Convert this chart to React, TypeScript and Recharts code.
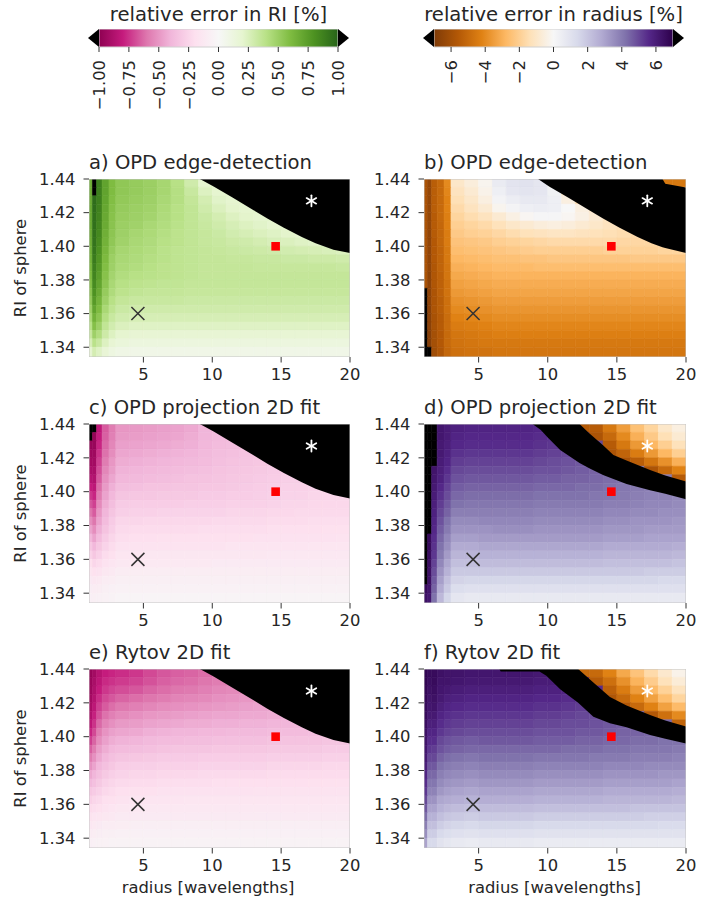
import React from 'react';
import { ComposedChart, XAxis, YAxis, ReferenceArea, Area, Scatter } from 'recharts';

const FONT = "'DejaVu Sans', sans-serif";
const TEXT = '#262626';

// ---------- axes / ticks ----------
const RADIUS_TICKS = [5, 10, 15, 20];
const RI_TICKS = [1.34, 1.36, 1.38, 1.4, 1.42, 1.44];
const RADIUS_DOMAIN = [1.05, 20];
const RI_DOMAIN = [1.3342, 1.44];
const CBAR_RI_TICKS = [-1, -0.75, -0.5, -0.25, 0, 0.25, 0.5, 0.75, 1];
const CBAR_RADIUS_TICKS = [-6, -4, -2, 0, 2, 4, 6];

// cell edges of the heat-map grid (radius, RI); RI rows listed top -> bottom
const X_EDGES = [1.05, 1.3, 1.6, 2, 2.5, 3, 4, 5, 6, 7, 8, 9, 10, 11, 12, 13, 14, 15, 16, 17, 18, 19, 20];
const Y_EDGES = [1.44, 1.435, 1.43, 1.425, 1.42, 1.415, 1.41, 1.405, 1.4, 1.395, 1.39, 1.385, 1.38, 1.375, 1.37, 1.365, 1.36, 1.355, 1.35, 1.345, 1.34, 1.3342];

// colormaps
const PIYG = ['#8e0152', '#c51b7d', '#de77ae', '#f1b6da', '#fde0ef', '#f7f7f7', '#e6f5d0', '#b8e186', '#7fbc41', '#4d9221', '#276419'];
const PUOR = ['#7f3b08', '#b35806', '#e08214', '#fdb863', '#fee0b6', '#f7f7f7', '#d8daeb', '#b2abd2', '#8073ac', '#542788', '#2d004b'];

// markers
const MARKERS = [
  { x: 4.6, y: 1.36, kind: 'cross' },
  { x: 14.6, y: 1.4, kind: 'square' },
  { x: 17.2, y: 1.427, kind: 'star' },
];

// ---------- panel a: RI error, OPD edge-detection (units of 0.01 %) ----------
const GRID_A = [
  [65, 999, 88, 72, 60, 54, 52, 50, 46, 40, 30, 20, 22, 22, 22, 22, 22, 22, 22, 22, 22, 22],
  [66, 999, 88, 72, 60, 54, 52, 50, 46, 41, 33, 24, 20, 22, 22, 22, 22, 22, 22, 22, 22, 22],
  [67, 96, 88, 71, 59, 53, 51, 49, 45, 41, 35, 28, 22, 20, 22, 22, 22, 22, 22, 22, 22, 22],
  [68, 96, 87, 70, 58, 52, 50, 48, 44, 40, 36, 30, 25, 21, 20, 22, 22, 22, 22, 22, 22, 22],
  [68, 95, 86, 69, 57, 51, 49, 47, 43, 40, 36, 32, 28, 24, 21, 20, 22, 22, 22, 22, 22, 22],
  [68, 95, 85, 68, 56, 50, 48, 45, 42, 39, 36, 33, 30, 27, 24, 22, 20, 20, 22, 22, 22, 22],
  [67, 94, 84, 66, 55, 49, 46, 44, 41, 38, 36, 34, 32, 29, 27, 25, 23, 21, 20, 20, 20, 20],
  [66, 93, 82, 65, 54, 48, 45, 43, 40, 38, 36, 34, 33, 31, 30, 28, 26, 25, 23, 22, 21, 20],
  [65, 92, 80, 63, 52, 46, 44, 42, 39, 37, 36, 35, 34, 33, 32, 31, 30, 29, 28, 27, 26, 25],
  [64, 90, 78, 61, 50, 45, 43, 41, 39, 37, 36, 35, 35, 34, 34, 33, 33, 32, 32, 31, 31, 30],
  [62, 88, 76, 59, 49, 44, 42, 40, 38, 37, 36, 35, 35, 35, 35, 34, 34, 34, 34, 34, 34, 33],
  [60, 86, 74, 57, 47, 42, 40, 39, 38, 37, 36, 35, 35, 35, 35, 35, 35, 35, 35, 35, 35, 35],
  [58, 83, 71, 55, 45, 40, 38, 37, 36, 36, 35, 35, 35, 35, 35, 35, 35, 35, 35, 35, 35, 35],
  [55, 80, 68, 52, 43, 38, 36, 35, 35, 35, 34, 34, 34, 34, 34, 34, 34, 34, 34, 34, 34, 34],
  [52, 76, 64, 49, 40, 35, 33, 33, 33, 33, 32, 32, 32, 32, 32, 32, 32, 32, 32, 32, 32, 32],
  [48, 71, 60, 45, 37, 32, 30, 30, 30, 30, 30, 30, 30, 30, 30, 30, 30, 30, 30, 30, 30, 30],
  [44, 65, 55, 41, 33, 29, 27, 27, 27, 27, 27, 27, 27, 27, 27, 27, 27, 27, 27, 27, 27, 27],
  [39, 58, 49, 36, 29, 25, 23, 23, 23, 23, 23, 23, 23, 23, 23, 23, 23, 23, 23, 23, 23, 23],
  [33, 49, 42, 31, 24, 20, 18, 18, 18, 18, 18, 18, 18, 18, 18, 18, 18, 18, 18, 18, 18, 18],
  [26, 39, 33, 24, 18, 15, 13, 13, 13, 13, 13, 13, 13, 13, 13, 13, 13, 13, 13, 13, 13, 13],
  [18, 28, 23, 17, 12, 9, 8, 8, 8, 8, 8, 8, 8, 8, 8, 8, 8, 8, 8, 8, 8, 8],
];

// ---------- panel b: radius error, OPD edge-detection (units of 0.1 %) ----------
const GRID_B = [
  [-58, -64, -54, -50, -40, -10, -6, -2, 6, 9, 10, 8, 0, -15, -20, -20, -20, -20, -20, -20, -45, -45],
  [-58, -64, -54, -50, -41, -12, -8, -3, 4, 8, 9, 8, 3, -10, -20, -20, -20, -20, -20, -20, -20, -20],
  [-58, -64, -54, -50, -42, -14, -10, -5, 2, 5, 7, 7, 4, -5, -15, -20, -20, -20, -20, -20, -20, -20],
  [-58, -64, -54, -50, -42, -16, -12, -8, -2, 2, 4, 5, 4, 0, -5, -10, -15, -15, -15, -15, -15, -15],
  [-58, -64, -55, -50, -43, -18, -15, -12, -8, -4, -1, 1, 1, -1, -4, -8, -12, -14, -14, -14, -14, -14],
  [-58, -64, -55, -51, -43, -20, -18, -16, -13, -10, -8, -6, -5, -6, -8, -10, -12, -14, -15, -15, -15, -15],
  [-58, -65, -55, -51, -44, -22, -20, -19, -17, -15, -13, -12, -11, -11, -12, -13, -14, -15, -16, -16, -16, -16],
  [-58, -65, -56, -51, -44, -24, -23, -22, -20, -19, -18, -17, -16, -16, -16, -16, -16, -17, -17, -17, -17, -17],
  [-58, -65, -56, -52, -45, -26, -25, -24, -23, -22, -21, -20, -20, -20, -20, -20, -19, -19, -19, -19, -18, -18],
  [-58, -65, -56, -52, -45, -28, -27, -26, -25, -25, -24, -24, -23, -23, -23, -23, -23, -23, -22, -22, -22, -22],
  [-58, -65, -57, -52, -46, -30, -29, -28, -27, -27, -27, -26, -26, -26, -26, -26, -26, -26, -26, -26, -26, -26],
  [-58, -66, -57, -53, -46, -32, -31, -30, -29, -29, -29, -29, -29, -29, -29, -29, -29, -29, -29, -29, -29, -29],
  [-58, -66, -57, -53, -47, -34, -33, -32, -31, -31, -31, -31, -31, -31, -31, -31, -31, -31, -31, -31, -31, -31],
  [-999, -66, -58, -53, -47, -36, -35, -34, -33, -33, -33, -33, -33, -33, -33, -33, -33, -33, -33, -33, -33, -33],
  [-999, -66, -58, -54, -48, -38, -37, -36, -35, -35, -35, -35, -35, -35, -35, -35, -35, -35, -35, -35, -35, -35],
  [-999, -67, -58, -54, -48, -40, -39, -38, -37, -37, -37, -37, -37, -37, -37, -37, -37, -37, -37, -37, -37, -37],
  [-999, -67, -59, -55, -49, -42, -41, -40, -39, -39, -39, -39, -39, -39, -39, -39, -39, -39, -39, -39, -39, -39],
  [-999, -67, -59, -55, -49, -44, -43, -42, -41, -41, -41, -41, -41, -41, -41, -41, -41, -41, -41, -41, -41, -41],
  [-999, -68, -60, -56, -50, -46, -45, -44, -43, -43, -43, -43, -43, -43, -43, -43, -43, -43, -43, -43, -43, -43],
  [-999, -68, -60, -56, -50, -47, -46, -45, -45, -45, -45, -45, -45, -45, -45, -45, -45, -45, -45, -45, -45, -45],
  [-999, -72, -61, -57, -51, -48, -47, -47, -46, -46, -46, -46, -46, -46, -46, -46, -46, -46, -46, -46, -46, -46],
];

// ---------- panel c: RI error, OPD projection 2D fit (units of 0.01 %) ----------
const GRID_C = [
  [-999, -999, -82, -66, -58, -50, -49, -48, -47, -46, -44, -40, -38, -38, -38, -38, -38, -38, -38, -38, -38, -38],
  [-999, -97, -80, -65, -57, -49, -48, -47, -46, -45, -43, -40, -38, -37, -37, -37, -37, -37, -37, -37, -37, -37],
  [-96, -96, -78, -63, -55, -47, -46, -45, -44, -43, -42, -39, -37, -36, -36, -36, -36, -36, -36, -36, -36, -36],
  [-94, -94, -75, -61, -53, -45, -44, -43, -42, -41, -40, -38, -36, -35, -34, -34, -34, -34, -34, -34, -34, -34],
  [-92, -92, -72, -58, -50, -43, -42, -41, -40, -39, -38, -37, -35, -34, -33, -32, -32, -32, -32, -32, -32, -32],
  [-89, -90, -69, -55, -48, -41, -40, -39, -38, -37, -36, -35, -34, -33, -32, -31, -30, -30, -30, -30, -30, -30],
  [-85, -87, -66, -52, -45, -39, -38, -37, -36, -35, -34, -34, -33, -32, -31, -30, -29, -28, -28, -28, -28, -28],
  [-80, -83, -62, -49, -42, -36, -35, -34, -34, -33, -33, -32, -32, -31, -30, -29, -28, -27, -27, -26, -26, -26],
  [-74, -78, -58, -46, -39, -33, -32, -32, -31, -31, -31, -30, -30, -29, -29, -28, -27, -26, -26, -25, -25, -25],
  [-67, -72, -54, -43, -36, -30, -29, -29, -29, -29, -28, -28, -28, -27, -27, -27, -26, -25, -25, -24, -24, -24],
  [-60, -66, -50, -40, -33, -28, -27, -27, -26, -26, -26, -26, -26, -25, -25, -25, -24, -24, -23, -23, -23, -23],
  [-53, -60, -46, -37, -30, -25, -25, -24, -24, -24, -24, -24, -23, -23, -23, -23, -22, -22, -22, -21, -21, -21],
  [-46, -53, -42, -34, -28, -23, -22, -22, -22, -22, -22, -21, -21, -21, -21, -21, -20, -20, -20, -20, -19, -19],
  [-39, -46, -37, -30, -25, -21, -20, -20, -19, -19, -19, -19, -19, -19, -19, -18, -18, -18, -18, -18, -18, -17],
  [-32, -39, -32, -26, -22, -18, -17, -17, -17, -17, -17, -17, -17, -16, -16, -16, -16, -16, -16, -15, -15, -15],
  [-26, -32, -27, -22, -19, -15, -15, -14, -14, -14, -14, -14, -14, -14, -14, -14, -13, -13, -13, -13, -13, -13],
  [-20, -25, -22, -18, -16, -13, -12, -12, -12, -12, -12, -12, -11, -11, -11, -11, -11, -11, -11, -11, -11, -11],
  [-15, -19, -17, -14, -12, -10, -9, -9, -9, -9, -9, -9, -9, -9, -9, -9, -9, -9, -9, -9, -9, -9],
  [-11, -14, -12, -10, -9, -7, -7, -7, -7, -7, -7, -7, -7, -7, -7, -7, -7, -7, -7, -7, -7, -7],
  [-8, -10, -9, -7, -6, -5, -5, -5, -5, -5, -5, -5, -5, -5, -5, -5, -5, -5, -5, -5, -5, -5],
  [-6, -7, -6, -5, -4, -3, -3, -3, -3, -3, -3, -3, -3, -3, -3, -3, -3, -3, -3, -3, -3, -3],
];

// ---------- panel d: radius error, OPD projection 2D fit (units of 0.1 %) ----------
const GRID_D = [
  [999, 999, 999, 62, 60, 58, 57, 57, 57, 57, 57, 56, 55, 54, -55, -55, -45, -35, -25, -18, -10, -5],
  [999, 999, 999, 62, 60, 57, 56, 56, 56, 56, 56, 55, 54, 53, 52, -58, -50, -40, -30, -22, -14, -8],
  [999, 999, 999, 61, 59, 56, 55, 55, 55, 55, 55, 54, 53, 52, 51, 50, -55, -45, -36, -28, -20, -13],
  [999, 999, 999, 61, 58, 54, 53, 53, 53, 53, 53, 52, 51, 50, 49, 48, -58, -52, -44, -36, -28, -20],
  [999, 999, 999, 60, 57, 52, 51, 51, 51, 51, 51, 50, 49, 48, 47, 46, 45, -58, -54, -46, -38, -30],
  [999, 999, 63, 59, 55, 50, 49, 49, 49, 49, 49, 48, 48, 47, 46, 45, 44, 43, 42, -58, -50, -42],
  [999, 999, 62, 58, 53, 48, 47, 47, 47, 47, 47, 46, 46, 45, 45, 44, 43, 42, 41, 40, 40, -55],
  [999, 999, 61, 56, 51, 46, 45, 45, 45, 45, 45, 44, 44, 44, 43, 43, 42, 41, 40, 39, 39, 38],
  [999, 999, 60, 54, 49, 44, 43, 43, 43, 43, 43, 42, 42, 42, 42, 41, 41, 40, 39, 38, 38, 37],
  [999, 999, 59, 52, 47, 42, 41, 41, 41, 41, 41, 40, 40, 40, 40, 40, 39, 39, 38, 37, 37, 36],
  [999, 999, 58, 50, 45, 39, 39, 39, 39, 39, 39, 38, 38, 38, 38, 38, 37, 37, 36, 36, 35, 35],
  [999, 999, 57, 48, 42, 36, 36, 37, 37, 37, 37, 36, 36, 36, 36, 36, 35, 35, 34, 34, 34, 33],
  [999, 999, 56, 46, 40, 34, 34, 34, 35, 35, 35, 34, 34, 34, 34, 34, 33, 33, 33, 32, 32, 32],
  [999, 66, 55, 44, 37, 31, 31, 32, 32, 32, 32, 32, 32, 32, 32, 32, 31, 31, 31, 30, 30, 30],
  [999, 66, 54, 42, 35, 28, 28, 29, 29, 29, 29, 29, 29, 29, 29, 29, 28, 28, 28, 28, 28, 27],
  [999, 65, 53, 40, 32, 25, 25, 26, 26, 26, 26, 26, 26, 26, 26, 26, 25, 25, 25, 25, 25, 24],
  [999, 65, 51, 37, 29, 22, 22, 23, 23, 23, 23, 23, 23, 23, 23, 23, 22, 22, 22, 22, 22, 21],
  [999, 64, 49, 34, 26, 19, 19, 19, 19, 19, 19, 19, 19, 19, 19, 19, 19, 19, 19, 18, 18, 18],
  [999, 64, 47, 31, 22, 16, 15, 15, 15, 15, 15, 15, 15, 15, 15, 15, 15, 15, 15, 15, 14, 14],
  [66, 63, 45, 28, 19, 12, 11, 11, 11, 11, 11, 11, 11, 11, 11, 11, 11, 11, 11, 11, 11, 11],
  [64, 62, 42, 24, 15, 8, 7, 7, 7, 7, 7, 7, 7, 7, 7, 7, 7, 7, 7, 7, 7, 7],
];

// ---------- panel e: RI error, Rytov 2D fit (units of 0.01 %) ----------
const GRID_E = [
  [-96, -92, -85, -80, -78, -76, -74, -70, -67, -65, -64, -62, -60, -60, -60, -60, -60, -60, -60, -60, -60, -60],
  [-95, -90, -83, -77, -75, -73, -71, -68, -65, -63, -62, -60, -58, -57, -57, -57, -57, -57, -57, -57, -57, -57],
  [-94, -88, -80, -74, -71, -69, -67, -64, -62, -60, -59, -57, -55, -54, -53, -53, -53, -53, -53, -53, -53, -53],
  [-92, -86, -76, -70, -67, -64, -62, -60, -58, -56, -55, -54, -52, -51, -50, -49, -48, -48, -48, -48, -48, -48],
  [-90, -83, -72, -66, -62, -59, -57, -55, -53, -52, -51, -50, -49, -48, -47, -46, -45, -45, -45, -45, -45, -45],
  [-87, -79, -68, -61, -57, -54, -52, -50, -49, -48, -47, -46, -45, -45, -44, -44, -43, -42, -42, -42, -42, -42],
  [-83, -75, -63, -56, -52, -49, -48, -46, -45, -44, -43, -43, -42, -42, -41, -41, -40, -40, -39, -39, -39, -39],
  [-78, -70, -58, -51, -47, -45, -44, -42, -41, -40, -40, -39, -39, -38, -38, -38, -37, -37, -37, -36, -36, -36],
  [-72, -64, -53, -47, -43, -41, -40, -38, -37, -37, -36, -36, -35, -35, -35, -35, -34, -34, -34, -34, -33, -33],
  [-65, -58, -48, -43, -39, -37, -36, -35, -34, -33, -33, -33, -32, -32, -32, -32, -31, -31, -31, -31, -30, -30],
  [-58, -52, -44, -39, -35, -33, -32, -31, -30, -30, -30, -29, -29, -29, -29, -29, -28, -28, -28, -28, -27, -27],
  [-51, -46, -39, -35, -32, -29, -28, -28, -27, -27, -27, -26, -26, -26, -26, -26, -25, -25, -25, -25, -24, -24],
  [-44, -40, -35, -31, -28, -26, -25, -25, -24, -24, -24, -23, -23, -23, -23, -23, -22, -22, -22, -22, -22, -22],
  [-38, -35, -31, -27, -25, -23, -22, -22, -21, -21, -21, -21, -20, -20, -20, -20, -20, -20, -20, -19, -19, -19],
  [-32, -30, -27, -24, -22, -20, -19, -19, -18, -18, -18, -18, -18, -18, -18, -17, -17, -17, -17, -17, -17, -17],
  [-27, -25, -23, -20, -19, -17, -16, -16, -16, -16, -15, -15, -15, -15, -15, -15, -15, -15, -15, -15, -15, -15],
  [-22, -21, -19, -17, -16, -14, -13, -13, -13, -13, -13, -13, -13, -13, -13, -13, -13, -13, -13, -13, -13, -13],
  [-17, -16, -15, -14, -13, -11, -11, -11, -11, -11, -11, -11, -11, -11, -11, -11, -11, -11, -11, -11, -11, -11],
  [-13, -12, -11, -10, -10, -9, -8, -8, -8, -8, -8, -8, -8, -8, -8, -8, -8, -8, -8, -8, -8, -8],
  [-9, -9, -8, -7, -7, -6, -6, -6, -6, -6, -6, -6, -6, -6, -6, -6, -6, -6, -6, -6, -6, -6],
  [-6, -6, -5, -5, -4, -4, -4, -4, -4, -4, -4, -4, -4, -4, -4, -4, -4, -4, -4, -4, -4, -4],
];

// ---------- panel f: radius error, Rytov 2D fit (units of 0.1 %) ----------
const GRID_F = [
  [68, 66, 66, 64, 63, 63, 62, 62, 62, 62, 62, 61, 61, 60, -50, -50, -42, -32, -24, -16, -9, -3],
  [68, 65, 66, 63, 63, 62, 61, 61, 61, 61, 61, 60, 60, 59, 58, -55, -48, -38, -29, -21, -13, -7],
  [67, 64, 65, 62, 61, 60, 59, 59, 59, 59, 59, 58, 58, 57, 56, 55, -53, -44, -35, -27, -19, -12],
  [67, 63, 64, 61, 59, 58, 57, 57, 57, 57, 57, 56, 56, 55, 54, 53, -57, -50, -42, -34, -26, -18],
  [66, 62, 63, 59, 57, 56, 55, 55, 55, 55, 55, 54, 54, 53, 52, 51, 50, -56, -50, -42, -34, -27],
  [66, 61, 61, 57, 55, 54, 53, 53, 53, 53, 53, 52, 52, 51, 50, 49, 48, 47, 46, -56, -48, -40],
  [65, 59, 59, 55, 53, 52, 51, 51, 51, 51, 51, 50, 50, 49, 49, 48, 47, 46, 45, 45, 44, -52],
  [64, 57, 57, 53, 51, 50, 49, 49, 49, 49, 49, 48, 48, 48, 47, 47, 46, 45, 45, 44, 44, 43],
  [63, 55, 55, 50, 48, 47, 46, 47, 47, 47, 47, 46, 46, 46, 45, 45, 44, 44, 43, 43, 42, 42],
  [62, 53, 52, 48, 46, 45, 44, 44, 44, 44, 44, 44, 44, 43, 43, 43, 42, 42, 41, 41, 41, 40],
  [61, 50, 50, 45, 43, 42, 41, 42, 42, 42, 42, 41, 41, 41, 41, 40, 40, 40, 39, 39, 39, 38],
  [59, 47, 47, 42, 40, 39, 38, 39, 39, 39, 39, 38, 38, 38, 38, 38, 37, 37, 37, 36, 36, 36],
  [57, 44, 44, 39, 37, 36, 35, 36, 36, 36, 36, 35, 35, 35, 35, 35, 34, 34, 34, 34, 33, 33],
  [55, 41, 41, 36, 34, 33, 32, 33, 33, 33, 33, 32, 32, 32, 32, 32, 31, 31, 31, 31, 31, 30],
  [53, 38, 38, 33, 31, 30, 29, 30, 30, 30, 30, 29, 29, 29, 29, 29, 28, 28, 28, 28, 28, 27],
  [50, 34, 34, 29, 28, 27, 26, 27, 27, 27, 27, 26, 26, 26, 26, 26, 25, 25, 25, 25, 25, 24],
  [47, 30, 30, 26, 24, 23, 22, 23, 23, 23, 23, 22, 22, 22, 22, 22, 22, 22, 21, 21, 21, 21],
  [43, 26, 26, 22, 20, 19, 18, 19, 19, 19, 19, 18, 18, 18, 18, 18, 18, 18, 18, 17, 17, 17],
  [39, 22, 22, 18, 16, 15, 14, 15, 15, 15, 15, 14, 14, 14, 14, 14, 14, 14, 14, 14, 13, 13],
  [35, 18, 18, 14, 12, 11, 10, 11, 11, 11, 11, 10, 10, 10, 10, 10, 10, 10, 10, 10, 10, 10],
  [30, 14, 14, 10, 8, 7, 6, 7, 7, 7, 7, 6, 6, 6, 6, 6, 6, 6, 6, 6, 6, 6],
];

// ---------- out-of-range (black) regions: [lower RI, upper RI] per radius ----------
const BAND_A = [
  { x: 9.1, band: [1.44, 1.44] },
  { x: 10.1, band: [1.4356, 1.44] },
  { x: 11.5, band: [1.4288, 1.44] },
  { x: 13.0, band: [1.4215, 1.44] },
  { x: 14.0, band: [1.4165, 1.44] },
  { x: 15.2, band: [1.411, 1.44] },
  { x: 16.5, band: [1.4055, 1.44] },
  { x: 17.5, band: [1.4018, 1.44] },
  { x: 18.8, band: [1.398, 1.44] },
  { x: 20, band: [1.396, 1.44] },
];
const BAND_B = [
  { x: 9.3, band: [1.44, 1.44] },
  { x: 10.1, band: [1.4356, 1.44] },
  { x: 11.5, band: [1.4288, 1.44] },
  { x: 13.0, band: [1.4215, 1.44] },
  { x: 14.0, band: [1.4165, 1.44] },
  { x: 15.2, band: [1.411, 1.44] },
  { x: 16.5, band: [1.4055, 1.44] },
  { x: 17.5, band: [1.4018, 1.44] },
  { x: 18.3, band: [1.3995, 1.44] },
  { x: 18.5, band: [1.399, 1.4372] },
  { x: 20, band: [1.396, 1.435] },
];
const BAND_C = [
  { x: 9.1, band: [1.44, 1.44] },
  { x: 10.1, band: [1.4356, 1.44] },
  { x: 11.5, band: [1.4288, 1.44] },
  { x: 13.0, band: [1.4215, 1.44] },
  { x: 14.0, band: [1.4165, 1.44] },
  { x: 15.2, band: [1.411, 1.44] },
  { x: 16.5, band: [1.4055, 1.44] },
  { x: 17.5, band: [1.4018, 1.44] },
  { x: 18.8, band: [1.398, 1.44] },
  { x: 20, band: [1.396, 1.44] },
];
const BAND_D = [
  { x: 8.9, band: [1.44, 1.44] },
  { x: 9.5, band: [1.4365, 1.44] },
  { x: 10.0, band: [1.432, 1.44] },
  { x: 10.9, band: [1.4246, 1.44] },
  { x: 12.3, band: [1.417, 1.44] },
  { x: 13.0, band: [1.4138, 1.4345] },
  { x: 14.0, band: [1.4098, 1.4275] },
  { x: 14.75, band: [1.4075, 1.4217] },
  { x: 15.7, band: [1.4045, 1.4185] },
  { x: 17.4, band: [1.4008, 1.4128] },
  { x: 18.5, band: [1.3988, 1.4095] },
  { x: 20, band: [1.3955, 1.406] },
];
const BAND_E = [
  { x: 9.1, band: [1.44, 1.44] },
  { x: 10.1, band: [1.4356, 1.44] },
  { x: 11.5, band: [1.4288, 1.44] },
  { x: 13.0, band: [1.4215, 1.44] },
  { x: 14.0, band: [1.4165, 1.44] },
  { x: 15.2, band: [1.411, 1.44] },
  { x: 16.5, band: [1.4055, 1.44] },
  { x: 17.5, band: [1.4018, 1.44] },
  { x: 18.8, band: [1.398, 1.44] },
  { x: 20, band: [1.396, 1.44] },
];
const BAND_F = [
  { x: 6.5, band: [1.44, 1.44] },
  { x: 6.6, band: [1.4385, 1.44] },
  { x: 9.4, band: [1.4385, 1.44] },
  { x: 9.9, band: [1.436, 1.44] },
  { x: 10.9, band: [1.428, 1.44] },
  { x: 12.2, band: [1.42, 1.44] },
  { x: 13.3, band: [1.4118, 1.432] },
  { x: 14.5, band: [1.408, 1.4235] },
  { x: 15.7, band: [1.4055, 1.4185] },
  { x: 17.4, band: [1.401, 1.4128] },
  { x: 18.5, band: [1.3988, 1.4095] },
  { x: 20, band: [1.396, 1.406] },
];

// ---------- helpers ----------
function hexToRgb(h: string) {
  return [parseInt(h.slice(1, 3), 16), parseInt(h.slice(3, 5), 16), parseInt(h.slice(5, 7), 16)];
}
function cmap(stops: string[], t: number): string {
  if (t < 0 || t > 1) return '#000000';
  const n = stops.length - 1;
  const p = t * n;
  const i = Math.min(Math.floor(p), n - 1);
  const f = p - i;
  const a = hexToRgb(stops[i]);
  const b = hexToRgb(stops[i + 1]);
  const c = a.map((v, k) => Math.round(v + (b[k] - v) * f));
  return `rgb(${c[0]},${c[1]},${c[2]})`;
}
const fmtMinus = (s: string) => s.replace('-', '\u2212');

const renderMarker = (props: any) => {
  const { cx, cy, payload } = props;
  if (cx == null || cy == null) return <g />;
  if (payload.kind === 'cross') {
    const s = 6.5;
    return (
      <g stroke="#333333" strokeWidth={1.5}>
        <line x1={cx - s} y1={cy - s} x2={cx + s} y2={cy + s} />
        <line x1={cx - s} y1={cy + s} x2={cx + s} y2={cy - s} />
      </g>
    );
  }
  if (payload.kind === 'square') {
    return <rect x={cx - 4.3} y={cy - 4.3} width={8.6} height={8.6} fill="#ff0000" />;
  }
  return (
    <g stroke="#ffffff" strokeWidth={1.8} strokeLinecap="round">
      <line x1={cx} y1={cy - 5.5} x2={cx} y2={cy + 5.5} />
      <line x1={cx - 4.8} y1={cy - 2.8} x2={cx + 4.8} y2={cy + 2.8} />
      <line x1={cx - 4.8} y1={cy + 2.8} x2={cx + 4.8} y2={cy - 2.8} />
    </g>
  );
};

const tickStyle = { fontSize: 16.4, fill: TEXT, fontFamily: FONT };

type PanelProps = {
  plotX: number;
  plotY: number;
  plotW: number;
  plotH: number;
  grid: number[][];
  unit: number;
  vmin: number;
  vmax: number;
  stops: string[];
  band: { x: number; band: number[] }[];
};

function Panel({ plotX, plotY, plotW, plotH, grid, unit, vmin, vmax, stops, band }: PanelProps) {
  const yw = 80;
  const mt = 10;
  const mr = 30;
  const xh = 40;
  const cells: React.ReactNode[] = [];
  grid.forEach((row, r) => {
    row.forEach((v, c) => {
      const val = v * unit;
      const color = cmap(stops, (val - vmin) / (vmax - vmin));
      cells.push(
        <ReferenceArea
          key={`c${r}-${c}`}
          x1={X_EDGES[c]}
          x2={X_EDGES[c + 1]}
          y1={Y_EDGES[r + 1]}
          y2={Y_EDGES[r]}
          fill={color}
          fillOpacity={1}
          stroke={color}
          strokeWidth={0.6}
          ifOverflow="hidden"
        />
      );
    });
  });
  return (
    <div style={{ position: 'absolute', left: plotX - yw, top: plotY - mt }}>
      <ComposedChart
        width={yw + plotW + mr}
        height={mt + plotH + xh}
        data={band}
        margin={{ top: mt, right: mr, bottom: 0, left: 0 }}
      >
        <XAxis
          type="number"
          dataKey="x"
          domain={RADIUS_DOMAIN}
          ticks={RADIUS_TICKS}
          interval={0}
          allowDataOverflow
          axisLine={false}
          tickSize={5.5}
          tickMargin={6}
          height={xh}
          tick={tickStyle}
          tickLine={{ stroke: '#333333', strokeWidth: 1 }}
        />
        <YAxis
          type="number"
          domain={RI_DOMAIN}
          ticks={RI_TICKS}
          interval={0}
          allowDataOverflow
          axisLine={false}
          tickSize={5.5}
          tickMargin={8}
          width={yw}
          tick={tickStyle}
          tickLine={{ stroke: '#333333', strokeWidth: 1 }}
          tickFormatter={(v: number) => v.toFixed(2)}
        />
        {cells}
        <Area
          type="linear"
          dataKey="band"
          stroke="none"
          fill="#000000"
          fillOpacity={1}
          isAnimationActive={false}
          dot={false}
          activeDot={false}
        />
        <ReferenceArea
          x1={RADIUS_DOMAIN[0]}
          x2={RADIUS_DOMAIN[1]}
          y1={RI_DOMAIN[0]}
          y2={RI_DOMAIN[1]}
          fill="none"
          fillOpacity={0}
          stroke="#c4c4c4"
          strokeWidth={1}
          ifOverflow="hidden"
        />
        <Scatter data={MARKERS} dataKey="y" shape={renderMarker} isAnimationActive={false} />
      </ComposedChart>
    </div>
  );
}

type CbarProps = {
  plotX: number;
  plotW: number;
  domain: number[];
  ticks: number[];
  digits: number;
  stops: string[];
  gradId: string;
};

function Colorbar({ plotX, plotW, domain, ticks, digits, stops, gradId }: CbarProps) {
  const side = 20;
  const ends = [
    { x: domain[0], y: 0.5, dir: -1 },
    { x: domain[1], y: 0.5, dir: 1 },
  ];
  const RotTick = (p: any) => {
    const { x, y, payload } = p;
    return (
      <text
        transform={`translate(${x},${y}) rotate(-90)`}
        textAnchor="end"
        dy="0.36em"
        fontSize={16.4}
        fill={TEXT}
        fontFamily={FONT}
      >
        {fmtMinus(Number(payload.value).toFixed(digits))}
      </text>
    );
  };
  const tri = (p: any) => {
    const { cx, cy, payload } = p;
    if (cx == null) return <g />;
    const d = payload.dir;
    return <polygon points={`${cx},${cy - 9} ${cx + d * 11},${cy} ${cx},${cy + 9}`} fill="#000000" />;
  };
  return (
    <div style={{ position: 'absolute', left: plotX - side, top: 29 }}>
      <ComposedChart
        width={plotW + 2 * side}
        height={100}
        data={ends}
        margin={{ top: 0, right: side, bottom: 0, left: side }}
      >
        <defs>
          <linearGradient id={gradId} x1="0" y1="0" x2="1" y2="0">
            {stops.map((c, i) => (
              <stop key={i} offset={i / (stops.length - 1)} stopColor={c} />
            ))}
          </linearGradient>
        </defs>
        <XAxis
          type="number"
          dataKey="x"
          domain={domain}
          ticks={ticks}
          interval={0}
          height={82}
          axisLine={false}
          tickSize={5}
          tickMargin={8}
          tick={RotTick}
          tickLine={{ stroke: '#333333', strokeWidth: 1 }}
        />
        <YAxis hide type="number" domain={[0, 1]} />
        <ReferenceArea
          x1={domain[0]}
          x2={domain[1]}
          y1={0}
          y2={1}
          fill={`url(#${gradId})`}
          fillOpacity={1}
          stroke="#d0d0d0"
          strokeWidth={1}
        />
        <Scatter data={ends} dataKey="y" shape={tri} isAnimationActive={false} />
      </ComposedChart>
    </div>
  );
}

const TITLES = [
  { text: 'a) OPD edge-detection', x: 89, y: 168.5 },
  { text: 'b) OPD edge-detection', x: 424, y: 168.5 },
  { text: 'c) OPD projection 2D fit', x: 89, y: 413.5 },
  { text: 'd) OPD projection 2D fit', x: 424, y: 413.5 },
  { text: 'e) Rytov 2D fit', x: 89, y: 658.5 },
  { text: 'f) Rytov 2D fit', x: 424, y: 658.5 },
];

export default function App() {
  const LX = 89;
  const RX = 424;
  const rows = [
    { y: 179, h: 178 },
    { y: 424, h: 179 },
    { y: 669, h: 179 },
  ];
  return (
    <div style={{ position: 'absolute', left: 0, top: 0, width: 718, height: 901, background: '#ffffff', overflow: 'hidden' }}>
      <Colorbar plotX={99} plotW={239} domain={[-1, 1]} ticks={CBAR_RI_TICKS} digits={2} stops={PIYG} gradId="gradPiYG" />
      <Colorbar plotX={434} plotW={239} domain={[-7, 7]} ticks={CBAR_RADIUS_TICKS} digits={0} stops={PUOR} gradId="gradPuOr" />

      <Panel plotX={LX} plotY={rows[0].y} plotW={261} plotH={rows[0].h} grid={GRID_A} unit={0.01} vmin={-1} vmax={1} stops={PIYG} band={BAND_A} />
      <Panel plotX={RX} plotY={rows[0].y} plotW={262} plotH={rows[0].h} grid={GRID_B} unit={0.1} vmin={-7} vmax={7} stops={PUOR} band={BAND_B} />
      <Panel plotX={LX} plotY={rows[1].y} plotW={261} plotH={rows[1].h} grid={GRID_C} unit={0.01} vmin={-1} vmax={1} stops={PIYG} band={BAND_C} />
      <Panel plotX={RX} plotY={rows[1].y} plotW={262} plotH={rows[1].h} grid={GRID_D} unit={0.1} vmin={-7} vmax={7} stops={PUOR} band={BAND_D} />
      <Panel plotX={LX} plotY={rows[2].y} plotW={261} plotH={rows[2].h} grid={GRID_E} unit={0.01} vmin={-1} vmax={1} stops={PIYG} band={BAND_E} />
      <Panel plotX={RX} plotY={rows[2].y} plotW={262} plotH={rows[2].h} grid={GRID_F} unit={0.1} vmin={-7} vmax={7} stops={PUOR} band={BAND_F} />

      <svg width={718} height={901} style={{ position: 'absolute', left: 0, top: 0, pointerEvents: 'none' }}>
        <g fontFamily={FONT} fill={TEXT}>
          <text x={218.5} y={21} fontSize={19.6} textAnchor="middle">relative error in RI [%]</text>
          <text x={553.5} y={21} fontSize={19.6} textAnchor="middle">relative error in radius [%]</text>
          {TITLES.map((t) => (
            <text key={t.text + t.x} x={t.x} y={t.y} fontSize={19.6}>{t.text}</text>
          ))}
          {rows.map((r, i) => (
            <text key={i} transform={`translate(25.5,${r.y + r.h / 2}) rotate(-90)`} fontSize={16.4} textAnchor="middle">RI of sphere</text>
          ))}
          <text x={208} y={893} fontSize={16.4} textAnchor="middle">radius [wavelengths]</text>
          <text x={554.5} y={893} fontSize={16.4} textAnchor="middle">radius [wavelengths]</text>
        </g>
      </svg>
    </div>
  );
}
